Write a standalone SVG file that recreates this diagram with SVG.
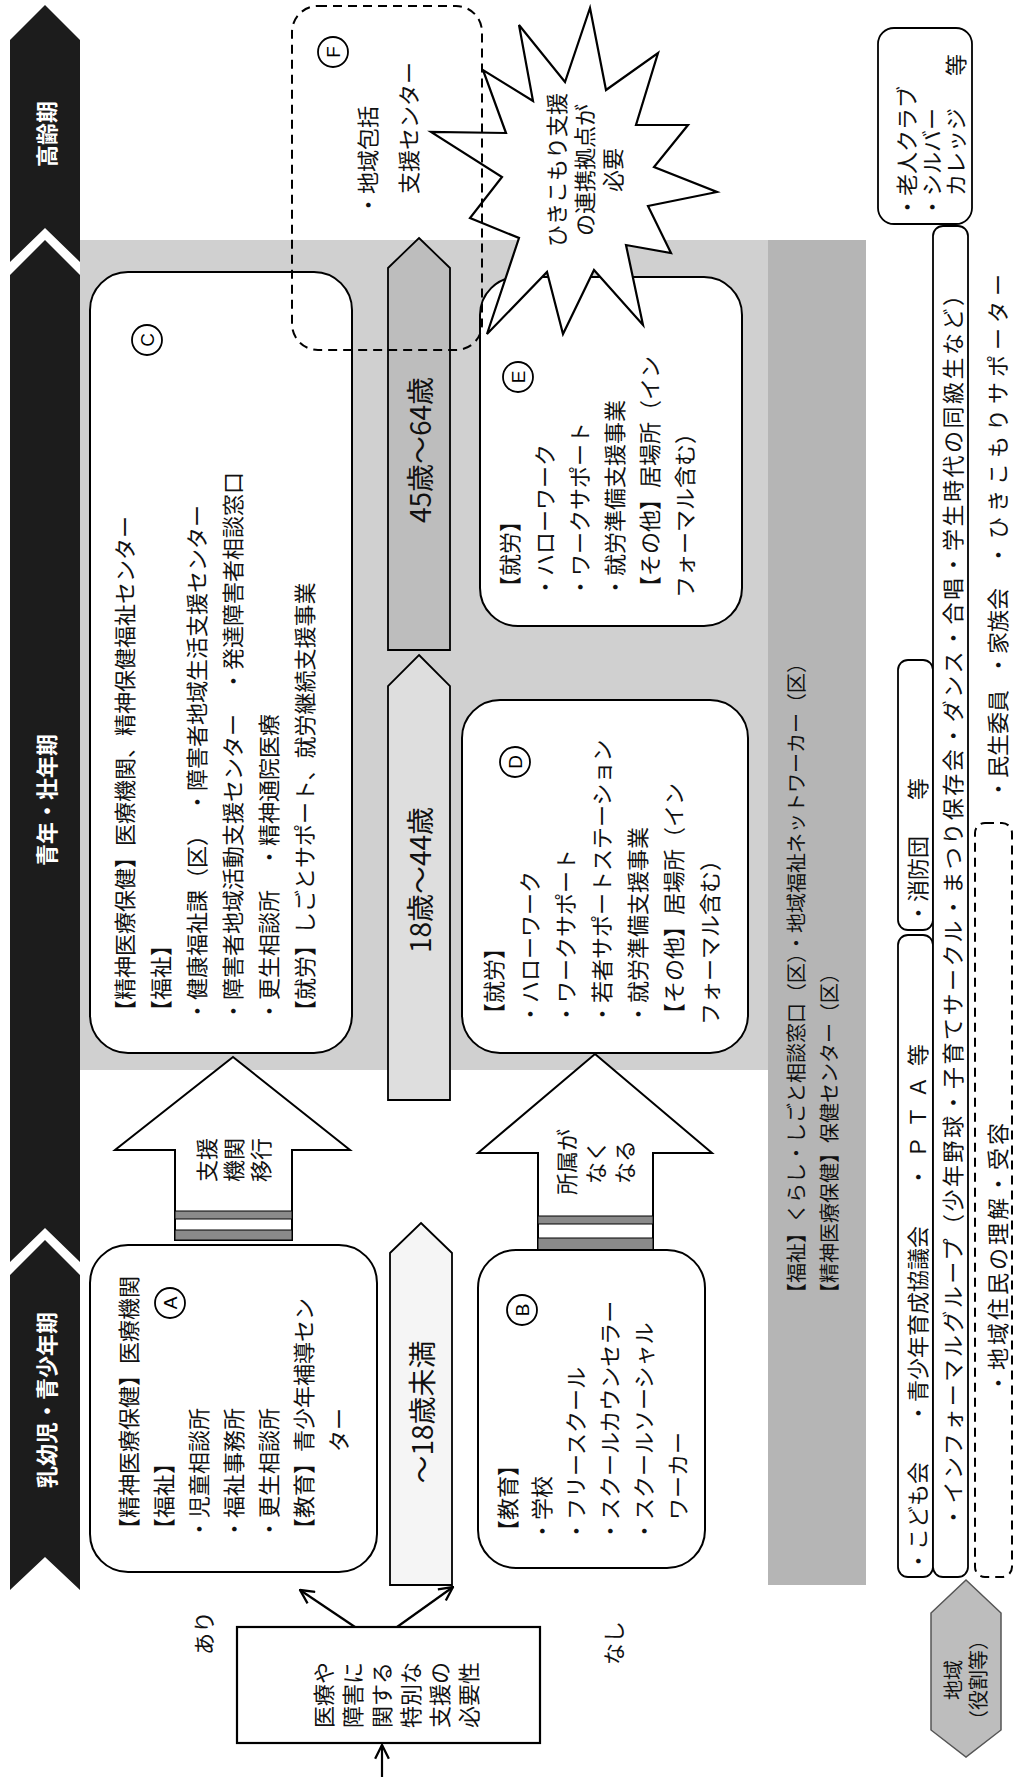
<svg xmlns="http://www.w3.org/2000/svg" width="1017" height="1777" viewBox="0 0 1017 1777">
<defs>
<style>
.bx{fill:#fff;stroke:#000;stroke-width:2}
.t{font-family:"Noto Sans CJK JP","Noto Sans CJK SC",sans-serif;font-size:22px;fill:#111;dominant-baseline:central}
.s20{font-size:20px}
.mid{text-anchor:middle}
.hd{font-family:"Noto Sans CJK JP",sans-serif;font-size:22px;fill:#fff;font-weight:bold;dominant-baseline:central;text-anchor:middle}
.age{font-family:"Noto Sans CJK JP",sans-serif;font-size:28px;fill:#111;dominant-baseline:central;text-anchor:middle}
.ci{fill:#fff;stroke:#000;stroke-width:1.8}
.cl{font-family:"Liberation Sans",sans-serif;font-size:19px;fill:#000;text-anchor:middle;dominant-baseline:central}
.band{fill:#1c1c1c}
.stripe{fill:#8a8a8a;stroke:#000;stroke-width:1}
.blk{fill:#fff;stroke:#000;stroke-width:2}
.con{stroke:#000;stroke-width:2.2;fill:none;marker-end:url(#ah)}
.dash{fill:none;stroke:#000;stroke-width:2;stroke-dasharray:9 6}
.sm{fill:#fff;stroke:#000;stroke-width:1.8}
</style>
<marker id="ah" viewBox="0 0 14 14" refX="13" refY="7" markerWidth="16" markerHeight="16" markerUnits="userSpaceOnUse" orient="auto">
<path d="M1,1 L13,7 L1,13" fill="none" stroke="#000" stroke-width="2"/>
</marker>
</defs>

<rect width="1017" height="1777" fill="#fff"/>

<g id="background">
<rect x="80" y="240" width="786" height="830" fill="#d0d0d0"/>
<rect x="768" y="240" width="98" height="1345" fill="#b5b5b5"/>
</g>

<g id="band">
<polygon class="band" points="45,5 80,40 80,262 45,228 10,262 10,40"/>
<polygon class="band" points="45,240 80,275 80,1262 45,1228 10,1262 10,275"/>
<polygon class="band" points="45,1240 80,1275 80,1590 45,1557 10,1590 10,1275"/>
<text class="hd" transform="translate(45,134) rotate(-90)">高齢期</text>
<text class="hd" transform="translate(45,800) rotate(-90)">青年・壮年期</text>
<text class="hd" transform="translate(45,1400) rotate(-90)">乳幼児・青少年期</text>
</g>

<g id="strip-text">
<text class="t s20" transform="translate(795,1303) rotate(-90)">【福祉】くらし・しごと相談窓口（区）・地域福祉ネットワーカー（区）</text>
<text class="t s20" transform="translate(828,1303) rotate(-90)">【精神医療保健】保健センター（区）</text>
</g>

<g id="age-arrows">
<g id="age-45-64">
<polygon points="419,238 450,268 450,650 388,650 388,268" fill="#bdbdbd" stroke="#000" stroke-width="1.8"/>
<text class="age" transform="translate(419,450) rotate(-90)">45歳～64歳</text>
</g>
<g id="age-18-44">
<polygon points="419,655 450,686 450,1100 388,1100 388,686" fill="#dedede" stroke="#000" stroke-width="1.8"/>
<text class="age" transform="translate(419,880) rotate(-90)">18歳～44歳</text>
</g>
<g id="age-under18">
<polygon points="421,1223 452,1253 452,1585 390,1585 390,1253" fill="#f5f5f5" stroke="#000" stroke-width="1.8"/>
<text class="age" transform="translate(421,1412) rotate(-90)">～18歳未満</text>
</g>
</g>

<g id="nodeC">
<rect class="bx" x="90" y="272" width="262" height="781" rx="38"/>
<circle class="ci" cx="147" cy="340" r="15"/>
<text class="cl" transform="translate(147,340) rotate(-90)">C</text>
<text class="t" transform="translate(123,1022) rotate(-90)">【精神医療保健】医療機関、精神保健福祉センター</text>
<text class="t" transform="translate(159,1022) rotate(-90)">【福祉】</text>
<text class="t" transform="translate(195,1022) rotate(-90)">・健康福祉課（区）　・障害者地域生活支援センター</text>
<text class="t" transform="translate(231,1022) rotate(-90)">・障害者地域活動支援センター　・発達障害者相談窓口</text>
<text class="t" transform="translate(267,1022) rotate(-90)">・更生相談所　・精神通院医療</text>
<text class="t" transform="translate(303,1022) rotate(-90)">【就労】しごとサポート、就労継続支援事業</text>
</g>

<g id="nodeE">
<rect class="bx" x="480" y="277" width="262" height="349" rx="38"/>
<circle class="ci" cx="518" cy="377" r="15"/>
<text class="cl" transform="translate(518,377) rotate(-90)">E</text>
<text class="t" transform="translate(508,598) rotate(-90)">【就労】</text>
<text class="t" transform="translate(543,598) rotate(-90)">・ハローワーク</text>
<text class="t" transform="translate(578,598) rotate(-90)">・ワークサポート</text>
<text class="t" transform="translate(613,598) rotate(-90)">・就労準備支援事業</text>
<text class="t" transform="translate(648,598) rotate(-90)">【その他】居場所（イン</text>
<text class="t" transform="translate(683,598) rotate(-90)">フォーマル含む）</text>
</g>

<g id="nodeD">
<rect class="bx" x="462" y="700" width="286" height="353" rx="38"/>
<circle class="ci" cx="515" cy="762" r="15"/>
<text class="cl" transform="translate(515,762) rotate(-90)">D</text>
<text class="t" transform="translate(492,1025) rotate(-90)">【就労】</text>
<text class="t" transform="translate(528,1025) rotate(-90)">・ハローワーク</text>
<text class="t" transform="translate(564,1025) rotate(-90)">・ワークサポート</text>
<text class="t" transform="translate(600,1025) rotate(-90)">・若者サポートステーション</text>
<text class="t" transform="translate(636,1025) rotate(-90)">・就労準備支援事業</text>
<text class="t" transform="translate(672,1025) rotate(-90)">【その他】居場所（イン</text>
<text class="t" transform="translate(708,1025) rotate(-90)">フォーマル含む）</text>
</g>

<g id="arrow-shien">
<polygon class="blk" points="233,1057 350,1150 292,1150 292,1240 175,1240 175,1150 115,1150"/>
<rect class="stripe" x="175" y="1211" width="117" height="8"/>
<rect class="stripe" x="175" y="1230" width="117" height="10"/>
<text class="t mid" transform="translate(205,1160) rotate(-90)">支援</text>
<text class="t mid" transform="translate(232,1160) rotate(-90)">機関</text>
<text class="t mid" transform="translate(259,1160) rotate(-90)">移行</text>
</g>

<g id="arrow-shozoku">
<polygon class="blk" points="595,1054 712,1153 653,1153 653,1252 538,1252 538,1153 478,1153"/>
<rect class="stripe" x="538" y="1216" width="115" height="8"/>
<rect class="stripe" x="538" y="1238" width="115" height="12"/>
<text class="t mid" transform="translate(565,1162) rotate(-90)">所属が</text>
<text class="t mid" transform="translate(594,1162) rotate(-90)">なく</text>
<text class="t mid" transform="translate(623,1162) rotate(-90)">なる</text>
</g>

<g id="nodeA">
<rect class="bx" x="90" y="1245" width="287" height="327" rx="38"/>
<circle class="ci" cx="170" cy="1303" r="15"/>
<text class="cl" transform="translate(170,1303) rotate(-90)">A</text>
<text class="t" transform="translate(127,1540) rotate(-90)">【精神医療保健】医療機関</text>
<text class="t" transform="translate(162,1540) rotate(-90)">【福祉】</text>
<text class="t" transform="translate(197,1540) rotate(-90)">・児童相談所</text>
<text class="t" transform="translate(232,1540) rotate(-90)">・福祉事務所</text>
<text class="t" transform="translate(267,1540) rotate(-90)">・更生相談所</text>
<text class="t" transform="translate(302,1540) rotate(-90)">【教育】青少年補導セン</text>
<text class="t" transform="translate(337,1452) rotate(-90)">ター</text>
</g>

<g id="nodeB">
<rect class="bx" x="478" y="1250" width="227" height="318" rx="38"/>
<circle class="ci" cx="522" cy="1310" r="15"/>
<text class="cl" transform="translate(522,1310) rotate(-90)">B</text>
<text class="t" transform="translate(506,1542) rotate(-90)">【教育】</text>
<text class="t" transform="translate(540,1542) rotate(-90)">・学校</text>
<text class="t" transform="translate(574,1542) rotate(-90)">・フリースクール</text>
<text class="t" transform="translate(608,1542) rotate(-90)">・スクールカウンセラー</text>
<text class="t" transform="translate(642,1542) rotate(-90)">・スクールソーシャル</text>
<text class="t" transform="translate(676,1542) rotate(-90)">　ワーカー</text>
</g>

<g id="starburst">
<polygon points="590,8 606,90 658,53 636,125 688,125 654,167 717,192 648,206 671,253 626,245 643,325 594,270 563,334 547,272 487,334 519,238 470,218 502,177 431,132 506,133 483,70 533,101 519,25 565,82" fill="#fff" stroke="#000" stroke-width="2.2" stroke-linejoin="miter"/>
<text class="t mid" transform="translate(555,170) rotate(-90)">ひきこもり支援</text>
<text class="t mid" transform="translate(583,170) rotate(-90)">の連携拠点が</text>
<text class="t mid" transform="translate(611,170) rotate(-90)">必要</text>
</g>

<g id="nodeF">
<rect class="dash" x="292" y="6" width="190" height="344" rx="26"/>
<circle class="ci" cx="333" cy="52" r="15"/>
<text class="cl" transform="translate(333,52) rotate(-90)">F</text>
<text class="t" transform="translate(366,216) rotate(-90)">・地域包括</text>
<text class="t" transform="translate(407,216) rotate(-90)">　支援センター</text>
</g>

<g id="need-box">
<rect x="237" y="1627" width="303" height="116" fill="#fff" stroke="#000" stroke-width="2.2"/>
<text class="t" transform="translate(322,1728) rotate(-90)">医療や</text>
<text class="t" transform="translate(351,1728) rotate(-90)">障害に</text>
<text class="t" transform="translate(380,1728) rotate(-90)">関する</text>
<text class="t" transform="translate(409,1728) rotate(-90)">特別な</text>
<text class="t" transform="translate(438,1728) rotate(-90)">支援の</text>
<text class="t" transform="translate(467,1728) rotate(-90)">必要性</text>
</g>

<g id="labels">
<text class="t mid" transform="translate(202,1633) rotate(-90)">あり</text>
<text class="t mid" transform="translate(612,1643) rotate(-90)">なし</text>
</g>

<g id="community">
<g id="rojin">
<rect class="sm" x="878" y="28" width="94" height="196" rx="16"/>
<text class="t" transform="translate(905,218) rotate(-90)">・老人クラブ</text>
<text class="t" transform="translate(930,218) rotate(-90)">・シルバー</text>
<text class="t" transform="translate(954,218) rotate(-90)">　カレッジ</text>
<text class="t" transform="translate(954,76) rotate(-90)">等</text>
</g>
<g id="shobodan">
<rect class="sm" x="898" y="660" width="35" height="270" rx="10"/>
<text class="t" transform="translate(916,924) rotate(-90)">・消防団</text>
<text class="t" transform="translate(916,800) rotate(-90)">等</text>
</g>
<g id="kodomo">
<rect class="sm" x="898" y="935" width="35" height="642" rx="10"/>
<text class="t" transform="translate(916,1572) rotate(-90)">・こども会</text>
<text class="t" transform="translate(916,1424) rotate(-90)">・青少年育成協議会</text>
<text class="t" transform="translate(916,1188) rotate(-90)" letter-spacing="8">・ＰＴＡ</text>
<text class="t" transform="translate(916,1066) rotate(-90)">等</text>
</g>
<g id="informal">
<rect class="sm" x="933" y="226" width="35" height="1351" rx="10"/>
<text class="t" transform="translate(951,1528) rotate(-90)" letter-spacing="2.5">・インフォーマルグループ（少年野球・子育てサークル・まつり保存会・ダンス・合唱・学生時代の同級生など）</text>
</g>
<g id="minsei">
<text class="t" transform="translate(996,800) rotate(-90)">・民生委員</text>
<text class="t" transform="translate(996,676) rotate(-90)">・家族会</text>
<text class="t" transform="translate(996,566) rotate(-90)" letter-spacing="5">・ひきこもりサポーター</text>
</g>
<g id="jumin">
<rect class="dash" x="975" y="823" width="37" height="754" rx="10"/>
<text class="t" transform="translate(996,1394) rotate(-90)">・</text>
<text class="t" transform="translate(996,1370) rotate(-90)" letter-spacing="3">地域住民の理解・受容</text>
</g>
<g id="chiiki">
<polygon points="966,1580 1001,1613 1001,1730 966,1757 931,1730 931,1613" fill="#bdbdbd" stroke="#555" stroke-width="1.5"/>
<text class="t s20 mid" transform="translate(952,1680) rotate(-90)">地域</text>
<text class="t s20 mid" transform="translate(977,1680) rotate(-90)">（役割等）</text>
</g>
</g>

<g id="connectors">
<line class="con" x1="382" y1="1777" x2="382" y2="1745"/>
<line class="con" x1="355" y1="1627" x2="300" y2="1590"/>
<line class="con" x1="397" y1="1627" x2="453" y2="1587"/>
</g>
</svg>
